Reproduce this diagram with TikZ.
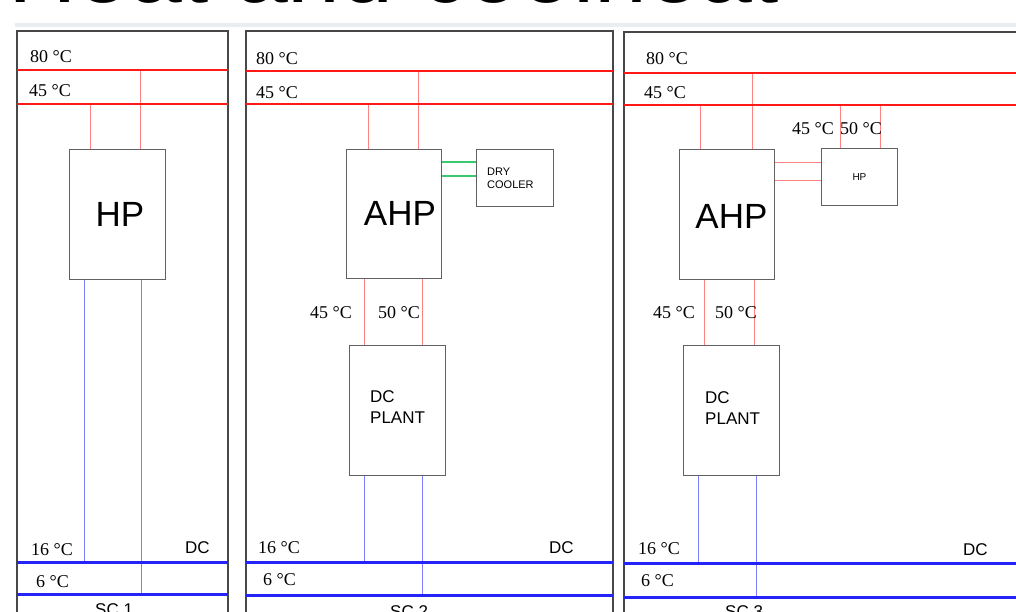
\documentclass[tikz,border=0pt]{standalone}
\usepackage{fontspec}
\setmainfont{Liberation Serif}
\setsansfont{Liberation Sans}
\definecolor{hotmain}{RGB}{255,25,25}
\definecolor{hotthin}{RGB}{255,130,130}
\definecolor{coldmain}{RGB}{35,35,250}
\definecolor{coldthin}{RGB}{125,125,255}
\definecolor{greenthin}{RGB}{60,200,110}
\definecolor{bandgray}{RGB}{232,237,242}
\begin{document}
\begin{tikzpicture}[x=1pt,y=-1pt,
  panel/.style={draw=black!72, line width=1.3pt},
  hline/.style={draw=hotmain, line width=2.2pt},
  cline/.style={draw=coldmain, line width=3pt},
  hpipe/.style={draw=hotthin, line width=1pt},
  cpipe/.style={draw=coldthin, line width=1pt},
  gpipe/.style={draw=greenthin, line width=1.1pt},
  box/.style={draw=black!62, line width=0.9pt, fill=white, inner sep=0pt, anchor=north west},
  temp/.style={font=\fontsize{18}{18}\selectfont, anchor=west, inner sep=0pt},
  tag/.style={font=\sffamily\fontsize{17}{17}\selectfont, anchor=west, inner sep=0pt},
  big/.style={font=\sffamily\fontsize{35}{35}\selectfont},
  plant/.style={font=\sffamily\fontsize{17}{21}\selectfont, align=left, inner sep=0pt, anchor=west},
  small/.style={font=\sffamily\fontsize{11}{13}\selectfont, align=left, inner sep=0pt, anchor=west}
]
\useasboundingbox (0,0) rectangle (1016,612);
\clip (0,0) rectangle (1016,612);

% cropped title and band
\node[font=\sffamily\fontsize{95}{95}\selectfont, anchor=base west, inner sep=0pt] (title) at (8,3) {Heat and coolheat};
\fill[bandgray] (15,23.5) rectangle (1016,27.5);

% ---------------- panel 1 ----------------
\draw[panel] (17,640) -- (17,31) -- (228,31) -- (228,640);
\coordinate (a80w) at (17,70);  \coordinate (a80e) at (228,70);
\coordinate (a45w) at (17,104); \coordinate (a45e) at (228,104);
\coordinate (a16w) at (17,562); \coordinate (a16e) at (228,562);
\coordinate (a6w) at (17,594);  \coordinate (a6e) at (228,594);
\node[box, minimum width=96pt, minimum height=130pt] (hpA) at (69,149) {};
\node[big] (hpAt) at ([xshift=2.5pt]hpA.center) {HP};
\coordinate (pa1) at (90,104); \coordinate (pa2) at (140,70);
\coordinate (ca1) at (84,562); \coordinate (ca2) at (141,594);
\draw[hpipe] (pa1) -- (pa1 |- hpA.north);
\draw[hpipe] (pa2) -- (pa2 |- hpA.north);
\draw[cpipe] (ca1 |- hpA.south) -- (ca1);
\draw[cpipe] (ca2 |- hpA.south) -- (ca2);
\draw[hline] (a80w) -- (a80e);
\draw[hline] (a45w) -- (a45e);
\draw[cline] (a16w) -- (a16e);
\draw[cline] (a6w) -- (a6e);
\node[temp] (ta80) at (30,57) {80 °C};
\node[temp] (ta45) at (29,91) {45 °C};
\node[temp] (ta16) at (31,550) {16 °C};
\node[temp] (ta6) at (36,582) {6 °C};
\node[tag] (tadc) at (185,548) {DC};
\node[tag, anchor=north west] (tasc) at (95,603) {SC 1};

% ---------------- panel 2 ----------------
\draw[panel] (246,640) -- (246,31) -- (613,31) -- (613,640);
\coordinate (b80w) at (246,71);  \coordinate (b80e) at (613,71);
\coordinate (b45w) at (246,104); \coordinate (b45e) at (613,104);
\coordinate (b16w) at (246,562); \coordinate (b16e) at (613,562);
\coordinate (b6w) at (246,595);  \coordinate (b6e) at (613,595);
\node[box, minimum width=95pt, minimum height=129pt] (ahpB) at (346,149) {};
\node[big] (ahpBt) at ([xshift=6pt]ahpB.center) {AHP};
\node[box, minimum width=77pt, minimum height=57pt] (dryB) at (476,149) {};
\node[small] (dryBt) at ([xshift=11pt]dryB.west) {DRY\\COOLER};
\node[box, minimum width=96pt, minimum height=130pt] (dcB) at (349,345) {};
\node[plant] (dcBt) at ([xshift=21pt,yshift=3pt]dcB.west) {DC\\PLANT};
\coordinate (pb1) at (368,104); \coordinate (pb2) at (418,71);
\draw[hpipe] (pb1) -- (pb1 |- ahpB.north);
\draw[hpipe] (pb2) -- (pb2 |- ahpB.north);
\coordinate (gb1) at (0,162); \coordinate (gb2) at (0,176);
\draw[gpipe] (ahpB.east |- gb1) -- (dryB.west |- gb1);
\draw[gpipe] (ahpB.east |- gb2) -- (dryB.west |- gb2);
\coordinate (qb1) at (364,0); \coordinate (qb2) at (422,0);
\draw[hpipe] (qb1 |- ahpB.south) -- (qb1 |- dcB.north);
\draw[hpipe] (qb2 |- ahpB.south) -- (qb2 |- dcB.north);
\coordinate (cb1) at (364,562); \coordinate (cb2) at (422,595);
\draw[cpipe] (cb1 |- dcB.south) -- (cb1);
\draw[cpipe] (cb2 |- dcB.south) -- (cb2);
\draw[hline] (b80w) -- (b80e);
\draw[hline] (b45w) -- (b45e);
\draw[cline] (b16w) -- (b16e);
\draw[cline] (b6w) -- (b6e);
\node[temp] (tb80) at (256,59) {80 °C};
\node[temp] (tb45) at (256,93) {45 °C};
\node[temp] (tb16) at (258,548) {16 °C};
\node[temp] (tb6) at (263,580) {6 °C};
\node[temp] (tbr1) at (310,313) {45 °C};
\node[temp] (tbr2) at (378,313) {50 °C};
\node[tag] (tbdc) at (549,548) {DC};
\node[tag, anchor=north west] (tbsc) at (390,605) {SC 2};

% ---------------- panel 3 ----------------
\draw[panel] (624,640) -- (624,32) -- (1030,32);
\coordinate (c80w) at (624,73);  \coordinate (c80e) at (1030,73);
\coordinate (c45w) at (624,105); \coordinate (c45e) at (1030,105);
\coordinate (c16w) at (624,563); \coordinate (c16e) at (1030,563);
\coordinate (c6w) at (624,597);  \coordinate (c6e) at (1030,597);
\node[box, minimum width=95pt, minimum height=130pt] (ahpC) at (679,149) {};
\node[big] (ahpCt) at ([xshift=4.5pt,yshift=-2pt]ahpC.center) {AHP};
\node[box, minimum width=76pt, minimum height=57pt] (hpC) at (821,148) {};
\node[font=\sffamily\fontsize{10}{10}\selectfont] (hpCt) at (hpC.center) {HP};
\node[box, minimum width=96pt, minimum height=130pt] (dcC) at (683,345) {};
\node[plant] (dcCt) at ([xshift=22pt,yshift=2pt]dcC.west) {DC\\PLANT};
\coordinate (pc1) at (700,105); \coordinate (pc2) at (752,73);
\draw[hpipe] (pc1) -- (pc1 |- ahpC.north);
\draw[hpipe] (pc2) -- (pc2 |- ahpC.north);
\coordinate (hc1) at (840,105); \coordinate (hc2) at (880,105);
\draw[hpipe] (hc1) -- (hc1 |- hpC.north);
\draw[hpipe] (hc2) -- (hc2 |- hpC.north);
\coordinate (rc1) at (0,163); \coordinate (rc2) at (0,181);
\draw[hpipe] (ahpC.east |- rc1) -- (hpC.west |- rc1);
\draw[hpipe] (ahpC.east |- rc2) -- (hpC.west |- rc2);
\coordinate (qc1) at (704,0); \coordinate (qc2) at (754,0);
\draw[hpipe] (qc1 |- ahpC.south) -- (qc1 |- dcC.north);
\draw[hpipe] (qc2 |- ahpC.south) -- (qc2 |- dcC.north);
\coordinate (cc1) at (698,563); \coordinate (cc2) at (756,597);
\draw[cpipe] (cc1 |- dcC.south) -- (cc1);
\draw[cpipe] (cc2 |- dcC.south) -- (cc2);
\draw[hline] (c80w) -- (c80e);
\draw[hline] (c45w) -- (c45e);
\draw[cline] (c16w) -- (c16e);
\draw[cline] (c6w) -- (c6e);
\node[temp] (tc80) at (646,59) {80 °C};
\node[temp] (tc45) at (644,93) {45 °C};
\node[temp] (tc16) at (638,549) {16 °C};
\node[temp] (tc6) at (641,581) {6 °C};
\node[temp] (tcr1) at (653,313) {45 °C};
\node[temp] (tcr2) at (715,313) {50 °C};
\node[temp] (tch1) at (792,129) {45 °C};
\node[temp] (tch2) at (840,129) {50 °C};
\node[tag] (tcdc) at (963,550) {DC};
\node[tag, anchor=north west] (tcsc) at (725,605) {SC 3};
\end{tikzpicture}
\end{document}
